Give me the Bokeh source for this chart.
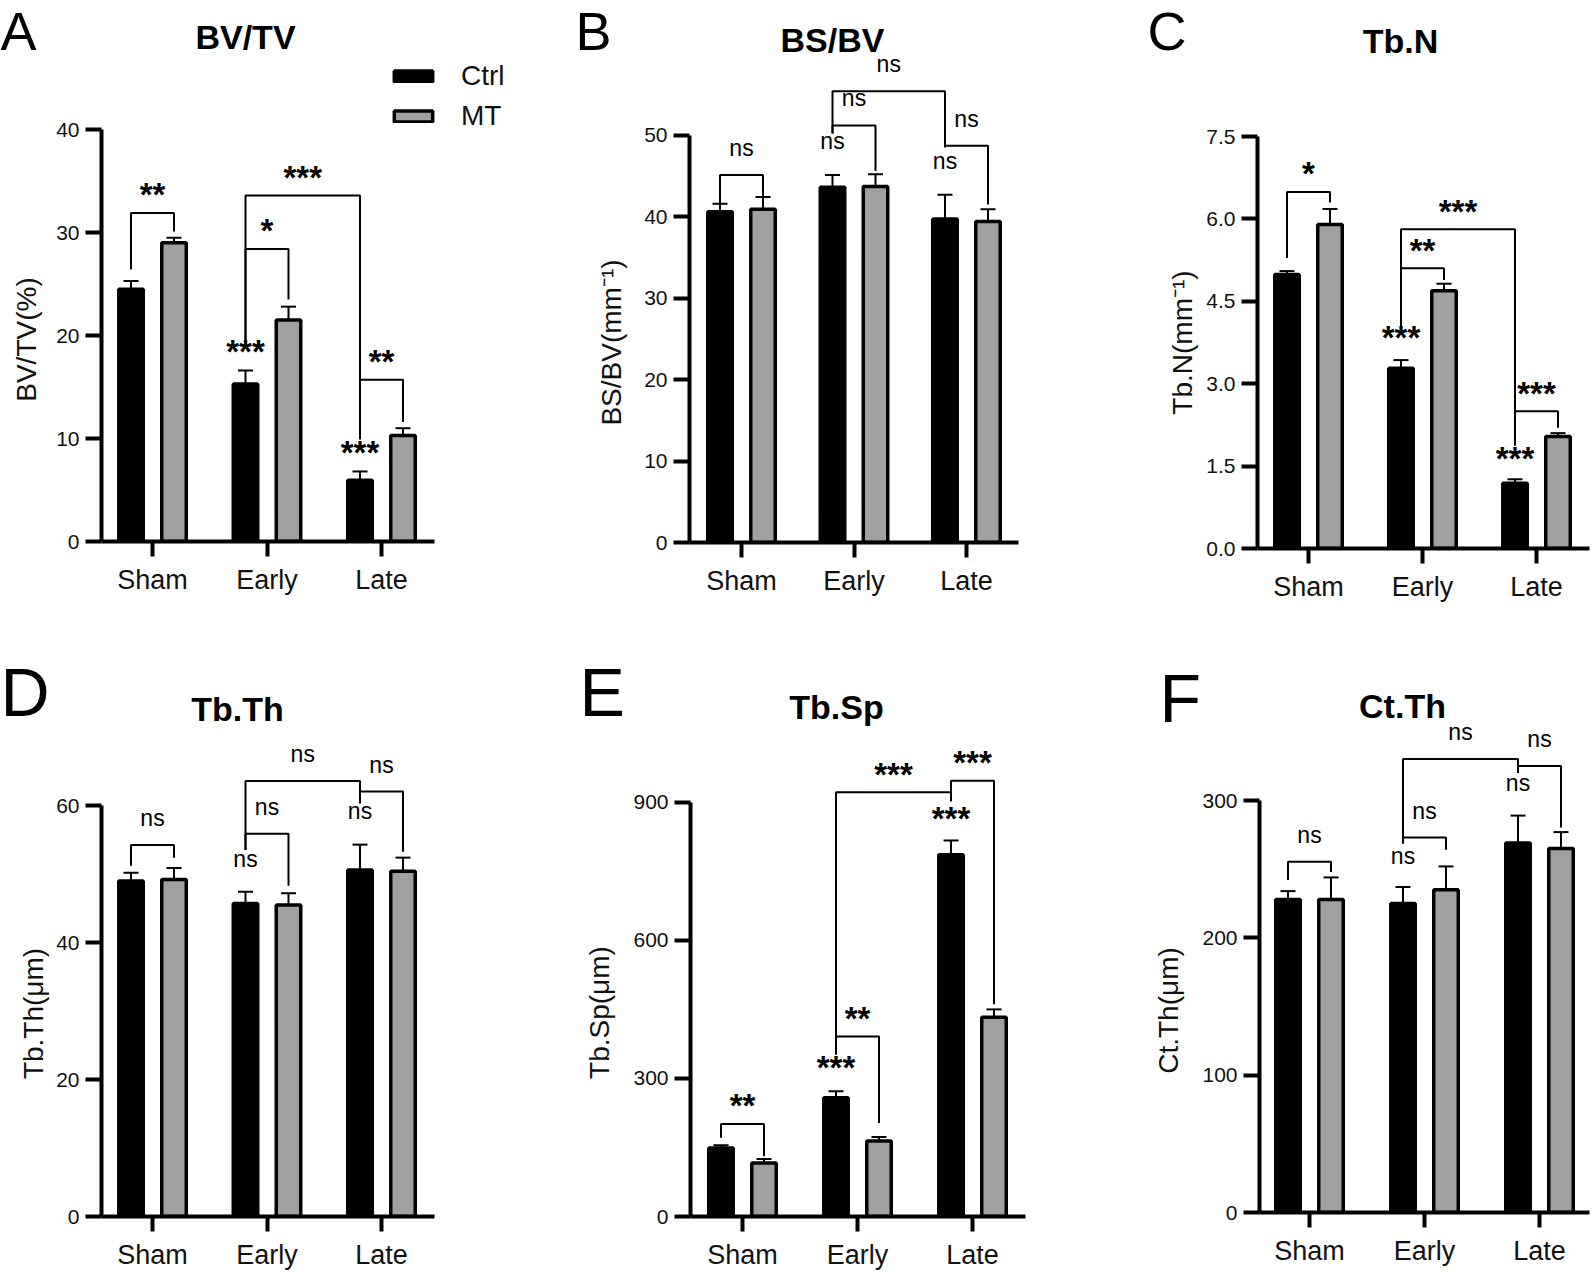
import math
from bokeh.plotting import figure
from bokeh.models import (Range1d, FixedTicker, Label, Legend, LegendItem,
                          PrintfTickFormatter, GridBox)
from bokeh.embed import file_html
from bokeh.resources import INLINE

# ---------------- data ----------------
groups = ["Sham", "Early", "Late"]

bvtv_ctrl = [24.5, 15.3, 5.95]
bvtv_ctrl_sem = [0.8, 1.3, 0.85]
bvtv_mt = [29.0, 21.5, 10.3]
bvtv_mt_sem = [0.5, 1.3, 0.7]

bsbv_ctrl = [40.6, 43.6, 39.7]
bsbv_ctrl_sem = [1.0, 1.5, 3.0]
bsbv_mt = [40.9, 43.7, 39.4]
bsbv_mt_sem = [1.5, 1.5, 1.5]

tbn_ctrl = [4.99, 3.28, 1.19]
tbn_ctrl_sem = [0.06, 0.15, 0.07]
tbn_mt = [5.90, 4.69, 2.04]
tbn_mt_sem = [0.28, 0.13, 0.06]

tbth_ctrl = [49.0, 45.7, 50.6]
tbth_ctrl_sem = [1.2, 1.7, 3.7]
tbth_mt = [49.2, 45.5, 50.4]
tbth_mt_sem = [1.7, 1.7, 2.0]

tbsp_ctrl = [149, 258, 786]
tbsp_ctrl_sem = [6, 14, 31]
tbsp_mt = [116, 164, 433]
tbsp_mt_sem = [9, 9, 17]

ctth_ctrl = [228, 225, 269]
ctth_ctrl_sem = [6, 12, 20]
ctth_mt = [228, 235, 265]
ctth_mt_sem = [16, 17, 12]

# significance brackets: (group1, series1, group2, series2, top, leg1 end, leg2 end, text)
bvtv_brackets = [(0, 0, 0, 1, 31.9, 26.4, 30.1, "**"),
                 (1, 0, 1, 1, 28.4, 19.5, 23.5, "*"),
                 (1, 0, 2, 0, 33.6, 19.5, 9.9, "***"),
                 (2, 0, 2, 1, 15.7, 15.7, 11.6, "**")]
bvtv_marks = [(1, 18.7, "***"), (2, 8.9, "***")]

bsbv_brackets = [(0, 0, 0, 1, 45.1, 41.4, 42.5, "ns"),
                 (1, 0, 1, 1, 51.2, 50.2, 45.6, "ns"),
                 (1, 0, 2, 0, 55.4, 50.2, 48.5, "ns"),
                 (2, 0, 2, 1, 48.7, 48.7, 41.5, "ns")]
bsbv_marks = [(1, 49.0, "ns"), (2, 46.6, "ns")]

tbn_brackets = [(0, 0, 0, 1, 6.49, 5.29, 6.30, "*"),
                (1, 0, 1, 1, 5.10, 3.99, 4.89, "**"),
                (1, 0, 2, 0, 5.81, 3.99, 1.87, "***"),
                (2, 0, 2, 1, 2.50, 2.50, 2.20, "***")]
tbn_marks = [(1, 3.89, "***"), (2, 1.69, "***")]

tbth_brackets = [(0, 0, 0, 1, 54.25, 51.2, 52.4, "ns"),
                 (1, 0, 1, 1, 55.9, 53.5, 48.3, "ns"),
                 (1, 0, 2, 0, 63.6, 53.5, 60.3, "ns"),
                 (2, 0, 2, 1, 62.05, 62.05, 53.25, "ns")]
tbth_marks = [(1, 51.9, "ns"), (2, 58.9, "ns")]

tbsp_brackets = [(0, 0, 0, 1, 201, 171, 131, "**"),
                 (1, 0, 1, 1, 391, 352, 203, "**"),
                 (1, 0, 2, 0, 922, 352, 902, "***"),
                 (2, 0, 2, 1, 947, 902, 461, "***")]
tbsp_marks = [(1, 330, "***"), (2, 871, "***")]

ctth_brackets = [(0, 0, 0, 1, 255.4, 242.2, 248.0, "ns"),
                 (1, 0, 1, 1, 273.0, 268.6, 264.2, "ns"),
                 (1, 0, 2, 0, 330.2, 268.6, 320.0, "ns"),
                 (2, 0, 2, 1, 325.2, 325.2, 280.3, "ns")]
ctth_marks = [(1, 258.3, "ns"), (2, 311.2, "ns")]

panel_titles = ["BV/TV", "BS/BV", "Tb.N", "Tb.Th", "Tb.Sp", "Ct.Th"]
panel_letters = ["A", "B", "C", "D", "E", "F"]
y_titles = ["BV/TV(%)", "BS/BV(mm⁻¹)", "Tb.N(mm⁻¹)", "Tb.Th(μm)", "Tb.Sp(μm)", "Ct.Th(μm)"]

# ---------------- style ----------------
FONT = "Liberation Sans"
GRAY = "#a0a0a0"
STAR_SIZE, NS_SIZE = "33px", "23px"


def sig_label(x, y, txt, base_off):
    star = txt != "ns"
    return Label(x=x, y=y, y_offset=base_off[0] if star else base_off[1], text=txt,
                 text_align="center", text_baseline="middle", text_font=FONT,
                 text_font_size=STAR_SIZE if star else NS_SIZE,
                 text_font_style="bold" if star else "normal", text_color="black")


def make_panel(g, ctrl, ctrl_sem, mt, mt_sem, yticks, brackets, marks,
               legend=False, fmt=None):
    W, H, L, XE, C0, S, B, pxu = g["W"], g["H"], g["L"], g["XE"], g["C0"], g["S"], g["B"], g["pxu"]
    xd = lambda px: (px - C0) / S
    x0, x1 = xd(L), xd(W)
    p = figure(width=W, height=H, x_range=Range1d(x0, x1), y_range=Range1d(0, B / pxu),
               output_backend="svg", toolbar_location=None,
               min_border_left=L, min_border_right=0, min_border_top=0,
               min_border_bottom=H - B)
    p.frame_align = False
    p.outline_line_color = None
    p.grid.visible = False
    p.background_fill_color = "white"

    off = 21.5 / S
    bw = 24.5 / S
    cw = 15.0 / S
    xs_c = [i - off for i in range(3)]
    xs_m = [i + off for i in range(3)]

    rc = p.vbar(x=xs_c, top=ctrl, bottom=0, width=bw, fill_color="black",
                line_color="black", line_width=3.5)
    rm = p.vbar(x=xs_m, top=mt, bottom=0, width=bw, fill_color=GRAY,
                line_color="black", line_width=3.5)

    for xs, v, e in ((xs_c, ctrl, ctrl_sem), (xs_m, mt, mt_sem)):
        tops = [a + b for a, b in zip(v, e)]
        p.segment(x0=xs, y0=v, x1=xs, y1=tops, line_color="black", line_width=2)
        p.segment(x0=[x - cw / 2 for x in xs], y0=tops, x1=[x + cw / 2 for x in xs],
                  y1=tops, line_color="black", line_width=2)

    def bx(gi, si):
        return gi + (off if si == 1 else -off)

    mxs, mys = [], []
    for g1, s1, g2, s2, top, ya, yb, txt in brackets:
        xa, xb = bx(g1, s1), bx(g2, s2)
        mxs.append([xa, xa, xb, xb])
        mys.append([ya, top, top, yb])
        p.add_layout(sig_label((xa + xb) / 2, top, txt, (18, 27)))
    p.multi_line(xs=mxs, ys=mys, line_color="black", line_width=2)

    for gi, yv, txt in marks:
        p.add_layout(sig_label(bx(gi, 0), yv, txt, (-3, 2)))

    # axes
    xa_, ya_ = p.xaxis[0], p.yaxis[0]
    for ax in (xa_, ya_):
        ax.axis_line_width = 4
        ax.axis_line_color = "black"
        ax.major_tick_line_width = 4
        ax.major_tick_line_color = "black"
        ax.major_tick_in = 0
        ax.minor_tick_line_color = None
        ax.major_label_text_font = FONT
        ax.major_label_text_color = "#111111"
    ya_.ticker = FixedTicker(ticks=yticks)
    ya_.bounds = (0, yticks[-1])
    ya_.major_tick_out = 16
    ya_.major_label_text_font_size = "21px"
    ya_.major_label_standoff = 6
    if fmt is not None:
        ya_.formatter = PrintfTickFormatter(format=fmt)

    xa_.ticker = FixedTicker(ticks=[0, 1, 2])
    xa_.major_label_overrides = {i: groups[i] for i in range(3)}
    xa_.bounds = (x0, xd(XE))
    xa_.major_tick_out = 15
    xa_.major_label_text_font_size = "27px"
    xa_.major_label_standoff = 8

    if legend:
        lg = Legend(items=[LegendItem(label="Ctrl", renderers=[rc]),
                           LegendItem(label="MT", renderers=[rm])],
                    location=(389 - L, B - 132), orientation="vertical",
                    border_line_color=None, background_fill_alpha=0,
                    padding=0, margin=0, spacing=8, glyph_width=48, glyph_height=14,
                    label_standoff=24, label_height=32,
                    label_text_font=FONT, label_text_font_size="28px",
                    label_text_color="#111111")
        p.add_layout(lg, "center")
    return p


# panel geometry in pixels (layout only)
gA = dict(W=530, H=620, L=101, XE=434, C0=152, S=114.5, B=541, pxu=412 / 40)
gB = dict(W=530, H=620, L=159, XE=488, C0=211, S=112.5, B=542, pxu=407.3 / 50)
gC = dict(W=532, H=620, L=197, XE=529, C0=248, S=114, B=548, pxu=412 / 7.5)
gD = dict(W=530, H=652, L=101, XE=434, C0=152, S=114.5, B=598, pxu=412.3 / 60)
gE = dict(W=530, H=652, L=160, XE=495, C0=212, S=115, B=598, pxu=415.6 / 900)
gF = dict(W=532, H=652, L=199, XE=529, C0=249, S=115, B=592, pxu=412 / 300)

pA = make_panel(gA, bvtv_ctrl, bvtv_ctrl_sem, bvtv_mt, bvtv_mt_sem, [0, 10, 20, 30, 40],
                bvtv_brackets, bvtv_marks, legend=True)
pB = make_panel(gB, bsbv_ctrl, bsbv_ctrl_sem, bsbv_mt, bsbv_mt_sem, [0, 10, 20, 30, 40, 50],
                bsbv_brackets, bsbv_marks)
pC = make_panel(gC, tbn_ctrl, tbn_ctrl_sem, tbn_mt, tbn_mt_sem, [0, 1.5, 3.0, 4.5, 6.0, 7.5],
                tbn_brackets, tbn_marks, fmt="%.1f")
pD = make_panel(gD, tbth_ctrl, tbth_ctrl_sem, tbth_mt, tbth_mt_sem, [0, 20, 40, 60],
                tbth_brackets, tbth_marks)
pE = make_panel(gE, tbsp_ctrl, tbsp_ctrl_sem, tbsp_mt, tbsp_mt_sem, [0, 300, 600, 900],
                tbsp_brackets, tbsp_marks)
pF = make_panel(gF, ctth_ctrl, ctth_ctrl_sem, ctth_mt, ctth_mt_sem, [0, 100, 200, 300],
                ctth_brackets, ctth_marks)

# transparent overlay carrying panel letters, panel titles and y-axis titles
TOT_W, TOT_H = 1592, 1272
ov = figure(width=TOT_W, height=TOT_H, x_range=Range1d(0, TOT_W), y_range=Range1d(TOT_H, 0),
            output_backend="svg", toolbar_location=None,
            x_axis_location=None, y_axis_location=None,
            min_border=0, min_border_left=0, min_border_right=0,
            min_border_top=0, min_border_bottom=0)
ov.frame_align = False
ov.grid.visible = False
ov.outline_line_color = None
ov.background_fill_color = None
ov.border_fill_color = None

letter_pos = [(0, 30.5, "54px"), (575, 30.5, "54px"), (1147, 30.5, "54px"),
              (0, 691.5, "68px"), (579, 691.5, "68px"), (1159, 697.5, "68px")]
title_pos = [(245, 36), (832, 39.5), (1400, 40), (237, 708.5), (836, 706.5), (1402, 705.5)]
ytitle_pos = [(26, 339), (611, 342), (1182, 342), (33, 1013), (599, 1012), (1168, 1010)]

for (lx, ly, ls), t in zip(letter_pos, panel_letters):
    ov.add_layout(Label(x=lx, y=ly, text=t, text_align="left", text_baseline="middle",
                        text_font=FONT, text_font_size=ls, text_color="black"))
for (tx, ty), t in zip(title_pos, panel_titles):
    ov.add_layout(Label(x=tx, y=ty, text=t, text_align="center", text_baseline="middle",
                        text_font=FONT, text_font_size="34px", text_font_style="bold",
                        text_color="black"))
for (tx, ty), t in zip(ytitle_pos, y_titles):
    ov.add_layout(Label(x=tx, y=ty, text=t, angle=math.pi / 2, text_align="center",
                        text_baseline="middle", text_font=FONT, text_font_size="28px",
                        text_color="#111111"))

grid = GridBox(children=[(pA, 0, 0), (pB, 0, 1), (pC, 0, 2),
                         (pD, 1, 0), (pE, 1, 1), (pF, 1, 2),
                         (ov, 0, 0, 2, 3)], spacing=0)

open("out.html", "w").write(file_html(grid, INLINE))
